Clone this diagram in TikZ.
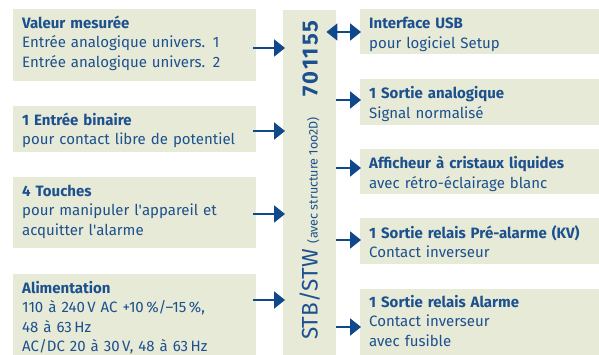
\documentclass[tikz,border=0pt]{standalone}
\usepackage{fontspec}
\setmainfont{Fira Sans}
\usetikzlibrary{positioning,arrows.meta}

\definecolor{blkfill}{RGB}{230,234,214}
\definecolor{blkblue}{RGB}{28,80,142}
\definecolor{arrblue}{RGB}{16,72,140}

\begin{document}
\begin{tikzpicture}[x=1pt,y=-1pt]
\tikzstyle{every node}=[text=blkblue]
\tikzstyle{blk}=[fill=blkfill,inner sep=0pt,anchor=north west]
\tikzstyle{inblk}=[blk,minimum width=243pt]
\tikzstyle{outblk}=[blk,minimum width=239pt]
\tikzstyle{blktext}=[align=left,text width=228pt,inner sep=0pt,
  font=\fontsize{15}{19.3}\selectfont]
\tikzstyle{conn}=[draw=arrblue,line width=2pt,-{Triangle[length=11pt,width=17pt]}]

\useasboundingbox (0,0) rectangle (599,355);

%% Device in the middle
\node [blk,minimum width=53pt,minimum height=345pt] (appareil) at (283,10) {};
\node [rotate=90,anchor=base west,inner sep=0pt] (appareil-t) at (317.5,340)
  {{\fontsize{22.5}{26}\selectfont STB/STW}\hspace{6pt}%
   {\fontsize{12.5}{14}\selectfont (avec structure 1oo2D)}\hspace{21pt}%
   {\fontsize{22}{26}\selectfont\bfseries\addfontfeatures{LetterSpace=9}701155}};

%% Inputs
\node [inblk,minimum height=72pt] (mesure) at (13,9) {};
\node [blktext,below right=19.5pt and 9pt of mesure.north west,anchor=base west]
  (mesure-t) {\textbf{Valeur mesurée}\\Entrée analogique univers. 1\\Entrée analogique univers. 2};

\node [inblk,minimum height=46pt] (binaire) at (13,106) {};
\node [blktext,below right=19.5pt and 9pt of binaire.north west,anchor=base west]
  (binaire-t) {\textbf{1 Entrée binaire}\\pour contact libre de potentiel};

\node [inblk,minimum height=71pt] (touches) at (13,177) {};
\node [blktext,below right=19.5pt and 9pt of touches.north west,anchor=base west]
  (touches-t) {\textbf{4 Touches}\\pour manipuler l\textquotesingle appareil et\\acquitter l\textquotesingle alarme};

\node [inblk,minimum height=81pt] (alim) at (13,274) {};
\node [blktext,below right=19.5pt and 9pt of alim.north west,anchor=base west]
  (alim-t) {\textbf{Alimentation}\\110 à 240\,V AC +10\,\%/–15\,\%,\\48 à 63\,Hz\\AC/DC 20 à 30\,V, 48 à 63\,Hz};

%% Outputs
\node [outblk,minimum height=45pt] (usb) at (360,9) {};
\node [blktext,below right=20pt and 9pt of usb.north west,anchor=base west]
  (usb-t) {\textbf{Interface USB}\\pour logiciel Setup};

\node [outblk,minimum height=46pt] (analog) at (360,79) {};
\node [blktext,below right=20pt and 9pt of analog.north west,anchor=base west]
  (analog-t) {\textbf{1 Sortie analogique}\\Signal normalisé};

\node [outblk,minimum height=45pt] (afficheur) at (360,149) {};
\node [blktext,below right=20pt and 9pt of afficheur.north west,anchor=base west]
  (afficheur-t) {\textbf{Afficheur à cristaux liquides}\\avec rétro-éclairage blanc};

\node [outblk,minimum height=46pt] (prealarme) at (360,218) {};
\node [blktext,below right=20pt and 9pt of prealarme.north west,anchor=base west]
  (prealarme-t) {\textbf{1 Sortie relais Pré-alarme (KV)}\\Contact inverseur};

\node [outblk,minimum height=66pt] (alarme) at (360,289) {};
\node [blktext,below right=18.5pt and 9pt of alarme.north west,anchor=base west]
  (alarme-t) {\textbf{1 Sortie relais Alarme}\\Contact inverseur\\avec fusible};

%% Arrows into the device
\draw [conn] ([xshift=-3pt]mesure.east |- 0,48) -- ([xshift=2pt]appareil.west |- 0,48);
\draw [conn] ([xshift=-3pt]binaire.east |- 0,131) -- ([xshift=2pt]appareil.west |- 0,131);
\draw [conn] ([xshift=-3pt]touches.east |- 0,214) -- ([xshift=2pt]appareil.west |- 0,214);
\draw [conn] ([xshift=-3pt]alim.east |- 0,300) -- ([xshift=2pt]appareil.west |- 0,300);

%% Arrows out of the device
\draw [conn,{Triangle[length=11pt,width=17pt]}-{Triangle[length=11pt,width=17pt]}]
  ([xshift=-10pt]appareil.east |- 0,32) -- ([xshift=1pt]usb.west |- 0,32);
\draw [conn] (appareil.east |- 0,100) -- ([xshift=1pt]analog.west |- 0,100);
\draw [conn] (appareil.east |- 0,168) -- ([xshift=1pt]afficheur.west |- 0,168);
\draw [conn] (appareil.east |- 0,240) -- ([xshift=1pt]prealarme.west |- 0,240);
\draw [conn] (appareil.east |- 0,327) -- ([xshift=1pt]alarme.west |- 0,327);

\end{tikzpicture}
\end{document}
